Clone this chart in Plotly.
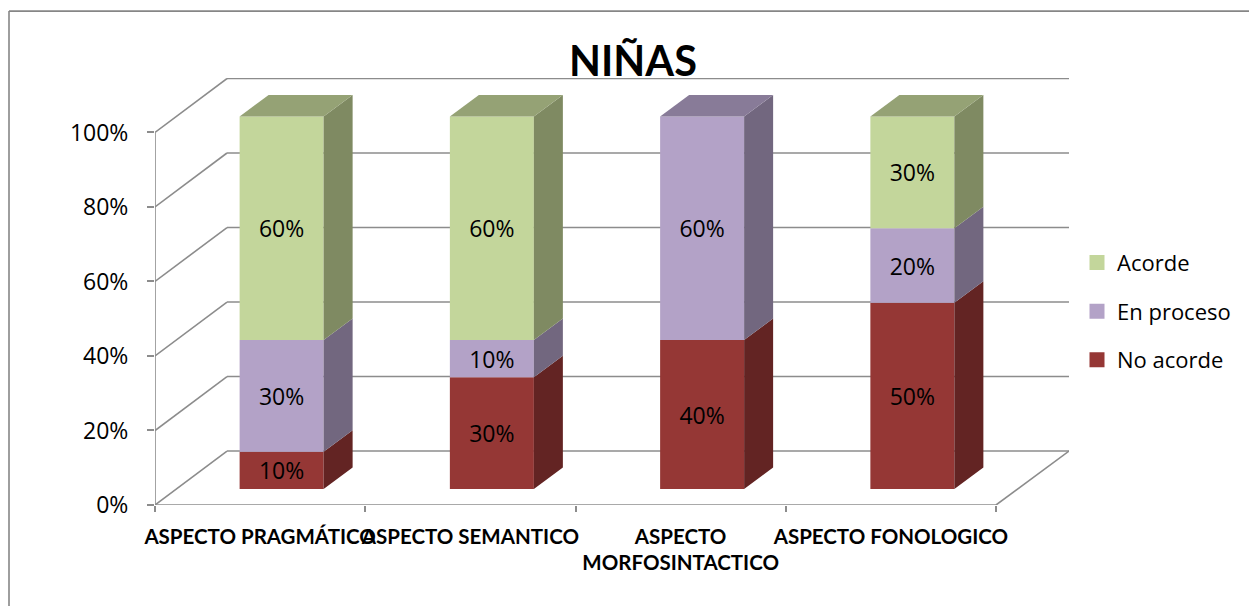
import plotly.graph_objects as go

categories = ["ASPECTO PRAGMÁTICO", "ASPECTO SEMANTICO", "ASPECTO<br>MORFOSINTACTICO", "ASPECTO FONOLOGICO"]
no_acorde = [10, 30, 40, 50]
en_proceso = [30, 10, 60, 20]
acorde = [60, 60, 0, 30]
y_ticks = [0, 20, 40, 60, 80, 100]
y_tick_labels = ["0%", "20%", "40%", "60%", "80%", "100%"]

FONT = "'Open Sans', sans-serif"
BOLD = "Lato, sans-serif"
W, H = 1249, 606
L, R, T, B = 155, 1069, 77.5, 505
PX_X = 210.25          # pixels per category
PX_Y = 3.73            # pixels per percent
WALL_DX = 72 / PX_X    # depth of the chart box, in axis units
WALL_DY = 54 / PX_Y
BAR_W = 84 / PX_X
BAR_OFF_X = 21.5 / PX_X
BAR_OFF_Y = 15.9 / PX_Y
BAR_DX = 29 / PX_X     # depth of each bar
BAR_DY = 21.7 / PX_Y
XMIN = -0.5
XMAX = XMIN + (R - L) / PX_X
YMAX = (B - T) / PX_Y
GRID = "#8c8c8c"

series = [
    ("No acorde", no_acorde, "#953735", "#632423", "#7a2d2b"),
    ("En proceso", en_proceso, "#B3A2C7", "#72677F", "#887B98"),
    ("Acorde", acorde, "#C3D69B", "#7F8A62", "#95A275"),
]

fig = go.Figure()
centers = list(range(len(categories)))
xs = [c + BAR_OFF_X for c in centers]
running = [BAR_OFF_Y] * len(categories)
top_faces = {}
for name, vals, front, side, top in series:
    fig.add_trace(go.Bar(
        x=xs, y=vals, base=list(running), width=BAR_W, marker=dict(color=front, line=dict(width=0)),
        text=[f"{v}%" if v else "" for v in vals], textposition="inside", insidetextanchor="middle",
        textangle=0, constraintext="none", textfont=dict(family=FONT, size=23, color="#000000"),
        showlegend=False, hoverinfo="skip", name=name))
    sx, sy = [], []
    for x, b, v in zip(xs, running, vals):
        if not v:
            continue
        right = x + BAR_W / 2
        sx += [right, right + BAR_DX, right + BAR_DX, right, right, None]
        sy += [b, b + BAR_DY, b + v + BAR_DY, b + v, b, None]
    fig.add_trace(go.Scatter(x=sx, y=sy, mode="lines", fill="toself", fillcolor=side, line=dict(width=0),
                             showlegend=False, hoverinfo="skip"))
    for i, (x, b, v) in enumerate(zip(xs, running, vals)):
        if v:
            top_faces[i] = (x, b + v, top)
    running = [b + v for b, v in zip(running, vals)]

for x, yt, col in top_faces.values():
    left, right = x - BAR_W / 2, x + BAR_W / 2
    fig.add_trace(go.Scatter(
        x=[left, left + BAR_DX, right + BAR_DX, right, left],
        y=[yt, yt + BAR_DY, yt + BAR_DY, yt, yt],
        mode="lines", fill="toself", fillcolor=col, line=dict(width=0), showlegend=False, hoverinfo="skip"))

# Legend entries
for name, vals, front, side, top in reversed(series):
    fig.add_trace(go.Scatter(x=[None], y=[None], mode="markers", name=name, legendgroup=name,
                             marker=dict(symbol="square", size=15, color=front)))

# Chart box: walls and floor, behind the bars
shapes = []
def seg(x0, y0, x1, y1):
    shapes.append(dict(type="line", xref="x", yref="y", layer="below", x0=x0, y0=y0, x1=x1, y1=y1,
                       line=dict(color=GRID, width=1.6)))
for t in y_ticks:
    seg(XMIN, t, XMIN + WALL_DX, t + WALL_DY)
    seg(XMIN + WALL_DX, t + WALL_DY, XMAX, t + WALL_DY)
seg(XMIN, 0, XMIN, 100)
seg(XMIN, 0, XMIN + len(categories), 0)
seg(XMIN + len(categories), 0, XMAX, WALL_DY)

# Outer frame of the chart area (top and left edges only are in view)
px = lambda p: (p - L) / (R - L)
py = lambda p: (B - p) / (B - T)
for x0, y0, x1, y1 in [(9, 10.5, 1249, 10.5), (9, 10.5, 9, 606)]:
    shapes.append(dict(type="line", xref="paper", yref="paper", x0=px(x0), x1=px(x1), y0=py(y0), y1=py(y1),
                       line=dict(color="#868686", width=1.6)))

fig.update_layout(
    width=W, height=H, margin=dict(l=L, r=W - R, t=T, b=H - B, pad=0, autoexpand=False),
    paper_bgcolor="white", plot_bgcolor="rgba(0,0,0,0)", barmode="overlay", shapes=shapes,
    title=dict(text="<b>NIÑAS</b>", x=633 / W, xanchor="center", y=1 - 61.5 / H, yanchor="middle",
               font=dict(family=BOLD, size=41.5, color="#000000")),
    xaxis=dict(range=[XMIN, XMAX], tickvals=centers, ticktext=categories, ticks="", showgrid=False,
               zeroline=False, showline=False, ticklabelstandoff=17, tickangle=0,
               tickfont=dict(family=BOLD, size=20.5, color="#000000", weight="bold"),
               minor=dict(tickvals=[XMIN + i for i in range(len(categories) + 1)], ticks="outside", ticklen=6,
                          tickcolor=GRID, tickwidth=1.6, showgrid=False)),
    yaxis=dict(range=[0, YMAX], tickvals=y_ticks, ticktext=y_tick_labels, ticks="outside", ticklen=7,
               tickcolor=GRID, tickwidth=1.6, showgrid=False, zeroline=False, showline=False,
               ticklabelstandoff=14, tickfont=dict(family=FONT, size=23, color="#000000")),
    legend=dict(x=(1077 - L) / (R - L), xanchor="left", y=(B - 241.5) / (B - T), yanchor="top",
                font=dict(family=FONT, size=22, color="#000000"), tracegroupgap=17,
                traceorder="grouped", bgcolor="rgba(0,0,0,0)", itemwidth=30, itemclick=False),
    font=dict(family=FONT),
)
fig.write_html("out.html", config={"displayModeBar": False}, post_script="document.body.style.margin='0';")
